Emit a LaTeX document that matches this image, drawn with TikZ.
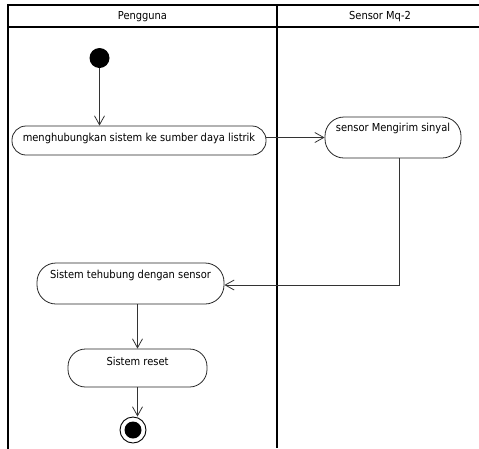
\documentclass[tikz,border=0pt]{standalone}
\usepackage{fontspec}
\setmainfont{DejaVu Sans Condensed}
\usetikzlibrary{arrows.meta}
\tikzset{
  act/.style={draw=black!85, line width=0.8pt, rounded corners=14pt, inner sep=0pt},
  txt/.style={font=\fontsize{11}{13}\selectfont, inner sep=0pt, text=black},
  arr/.style={draw=black!80, line width=0.8pt, -{Straight Barb[length=9pt,width=10pt,line width=0.8pt]}},
  lane/.style={line width=2pt, line cap=rect},
  startnode/.style={circle, fill=black, minimum size=20pt, inner sep=0pt},
  endnode/.style={circle, draw=black, line width=0.9pt, minimum size=26pt, inner sep=0pt, fill=white, path picture={\fill[black] (path picture bounding box.center) circle (8.5pt);}}
}
\begin{document}
\begin{tikzpicture}[x=1pt,y=-1pt]
\useasboundingbox (0,0) rectangle (479,448);
% swimlanes
\coordinate (tl) at (8,5);
\coordinate (tr) at (479,5);
\coordinate (hl) at (8,27);
\coordinate (hr) at (479,27);
\coordinate (bl) at (8,448);
\coordinate (mt) at (277,5);
\coordinate (mb) at (277,448);
\draw[lane] (tl) -- (tr);
\draw[line width=1.6pt] (hl) -- (hr);
\draw[lane] (tl) -- (bl);
\draw[line width=2.8pt] (mt) -- (mb);
\node[txt] (h1) at (142.5,17) {Pengguna};
\node[txt] (h2) at (380,17) {Sensor Mq-2};
% nodes
\node[startnode] (start) at (99.5,58) {};
\node[act, minimum width=254pt, minimum height=29pt] (n1) at (139,140.5) {};
\node[txt] (t1) at (139,138) {menghubungkan sistem ke sumber daya listrik};
\node[act, minimum width=136pt, minimum height=41pt, rounded corners=19pt] (n2) at (393,137.5) {};
\node[txt] (t2) at (393,128) {sensor Mengirim sinyal};
\node[act, minimum width=187pt, minimum height=41pt, rounded corners=19pt] (n3) at (130.5,283.5) {};
\node[txt] (t3) at (130.5,275) {Sistem tehubung dengan sensor};
\node[act, minimum width=139pt, minimum height=38pt, rounded corners=17.5pt] (n4) at (137.5,368) {};
\node[txt] (t4) at (137.5,361) {Sistem reset};
\node[endnode] (end) at (133,430) {};
% connectors
\draw[arr] (start) -- (start |- n1.north);
\draw[arr] (n2.west -| n1.east) -- (n2.west);
\draw[arr] ([xshift=6pt]n2.south) |- ([yshift=-1.5pt]n3.east);
\draw[arr] (n4.north |- n3.south) -- (n4.north);
\draw[arr] (n4.south) -- (n4.south |- end.north);
\end{tikzpicture}
\end{document}
